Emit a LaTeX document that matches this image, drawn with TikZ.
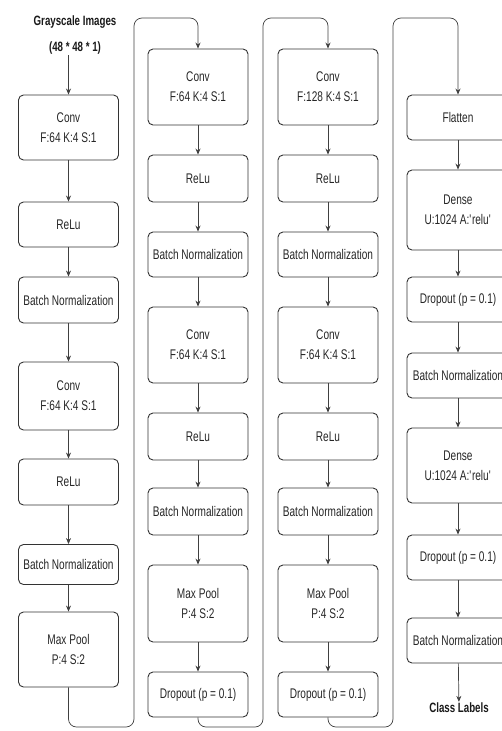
\documentclass[tikz,border=0pt]{standalone}
\usepackage{fontspec}
\setmainfont{Liberation Sans}[FakeStretch=0.72]
\usetikzlibrary{arrows.meta}

\begin{document}
\begin{tikzpicture}[x=1pt,y=-1pt,
  blk/.style={draw=black!80, line width=0.9pt, rounded corners=5pt,
    minimum width=100pt, inner sep=0pt, align=center,
    font=\fontsize{14}{20}\selectfont, text=black!85},
  wideblk/.style={blk, minimum width=102pt},
  flow/.style={draw=black!75, line width=0.7pt, -{Stealth[length=6pt,width=5pt]}},
  wrap/.style={flow, rounded corners=8pt},
  lbl/.style={font=\bfseries\fontsize{13.5}{26}\selectfont, align=center, inner sep=1pt, text=black!90}]
\useasboundingbox (0,0) rectangle (502,731);

% input label
\node[lbl] (in) at (75,35) {Grayscale Images\\(48 * 48 * 1)};

% first column
\node[blk, minimum height=65pt] (a1) at (68.5,127.5) {Conv\\F:64 K:4 S:1};
\node[blk, minimum height=45pt] (a2) at (68.5,224.5) {ReLu};
\node[blk, minimum height=46pt] (a3) at (68.5,300) {Batch Normalization};
\node[blk, minimum height=68pt] (a4) at (68.5,396) {Conv\\F:64 K:4 S:1};
\node[blk, minimum height=46pt] (a5) at (68.5,482) {ReLu};
\node[blk, minimum height=40pt] (a6) at (68.5,564.5) {Batch Normalization};
\node[blk, minimum height=75pt] (a7) at (68.5,649.5) {Max Pool\\P:4 S:2};

% second column
\node[blk, minimum height=76pt] (b1) at (198,87) {Conv\\F:64 K:4 S:1};
\node[blk, minimum height=47pt] (b2) at (198,178.5) {ReLu};
\node[blk, minimum height=45pt] (b3) at (198,254.5) {Batch Normalization};
\node[blk, minimum height=76pt] (b4) at (198,345) {Conv\\F:64 K:4 S:1};
\node[blk, minimum height=47pt] (b5) at (198,436.5) {ReLu};
\node[blk, minimum height=47pt] (b6) at (198,511.5) {Batch Normalization};
\node[blk, minimum height=77pt] (b7) at (198,603.5) {Max Pool\\P:4 S:2};
\node[blk, minimum height=45pt] (b8) at (198,694.5) {Dropout (p = 0.1)};

% third column
\node[blk, minimum height=76pt] (c1) at (328,87) {Conv\\F:128 K:4 S:1};
\node[blk, minimum height=47pt] (c2) at (328,178.5) {ReLu};
\node[blk, minimum height=45pt] (c3) at (328,254.5) {Batch Normalization};
\node[blk, minimum height=76pt] (c4) at (328,345) {Conv\\F:64 K:4 S:1};
\node[blk, minimum height=47pt] (c5) at (328,436.5) {ReLu};
\node[blk, minimum height=47pt] (c6) at (328,511.5) {Batch Normalization};
\node[blk, minimum height=77pt] (c7) at (328,603.5) {Max Pool\\P:4 S:2};
\node[blk, minimum height=45pt] (c8) at (328,694.5) {Dropout (p = 0.1)};

% fourth column (runs past the right edge of the page)
\node[wideblk, minimum height=45pt] (d1) at (458,117.5) {Flatten};
\node[wideblk, minimum height=80pt] (d2) at (458,210) {Dense\\U:1024 A:\textquotesingle relu\textquotesingle};
\node[wideblk, minimum height=45pt] (d3) at (458,299.5) {Dropout (p = 0.1)};
\node[wideblk, minimum height=45pt] (d4) at (458,375.5) {Batch Normalization};
\node[wideblk, minimum height=75pt] (d5) at (458,465.5) {Dense\\U:1024 A:\textquotesingle relu\textquotesingle};
\node[wideblk, minimum height=45pt] (d6) at (458,557.5) {Dropout (p = 0.1)};
\node[wideblk, minimum height=45pt] (d7) at (458,640.5) {Batch Normalization};
\node[lbl] (out) at (459,708) {Class Labels};

% turning points between columns
\coordinate (w1b) at (134,727);  \coordinate (w1t) at (134,18);
\coordinate (w2b) at (263,727);  \coordinate (w2t) at (263,18);
\coordinate (w3b) at (393,727);  \coordinate (w3t) at (393,18);

% straight links
\draw[flow] (in.south -| a1.north) -- (a1);
\foreach \u/\v in {a1/a2,a2/a3,a3/a4,a4/a5,a5/a6,a6/a7,
                   b1/b2,b2/b3,b3/b4,b4/b5,b5/b6,b6/b7,b7/b8,
                   c1/c2,c2/c3,c3/c4,c4/c5,c5/c6,c6/c7,c7/c8,
                   d1/d2,d2/d3,d3/d4,d4/d5,d5/d6,d6/d7,d7/out}
  \draw[flow] (\u) -- (\v);

% links that wrap from one column to the next
\draw[wrap] (a7.south) |- (w1b) -- (w1t) -| (b1.north);
\draw[wrap] (b8.south) |- (w2b) -- (w2t) -| (c1.north);
\draw[wrap] (c8.south) |- (w3b) -- (w3t) -| (d1.north);
\end{tikzpicture}
\end{document}
